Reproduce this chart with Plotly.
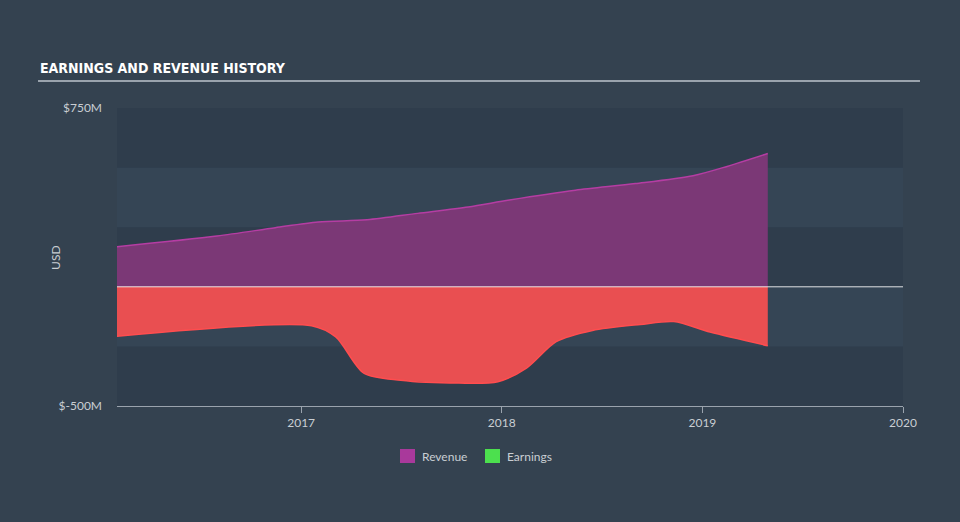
import plotly.graph_objects as go

rev_dates = ["2016-02-01", "2016-08-01", "2016-11-15", "2017-02-01", "2017-05-01", "2017-08-01",
             "2017-11-01", "2018-01-15", "2018-05-15", "2018-09-01", "2018-12-15", "2019-02-15",
             "2019-04-30"]
rev_vals = [168, 213, 248, 272, 281, 308, 335, 364, 405, 433, 466, 505, 559]

earn_dates = ["2016-02-01", "2017-01-20", "2017-03-05", "2017-04-25", "2017-07-01", "2017-10-15",
              "2017-12-25", "2018-02-15", "2018-04-10", "2018-06-15", "2018-09-10", "2018-11-10",
              "2019-01-15", "2019-04-30"]
earn_vals = [-207, -163, -210, -362, -392, -404, -398, -341, -230, -183, -158, -146, -190, -247]

y_ticks = [750, -500]
y_tick_text = ["$750M", "$-500M"]
x_ticks = ["2017-01-01", "2018-01-01", "2019-01-01", "2020-01-01"]
x_tick_text = ["2017", "2018", "2019", "2020"]
band_edges = [-500, -250, 0, 250, 500, 750]
legend_names = ["Revenue", "Earnings"]
legend_colors = ["#a9399b", "#4ce04e"]

BG = "#344250"
DARK = "#2f3d4c"
LIGHT = "#354555"
TXT = "#c9ced3"

fig = go.Figure()

fig.add_trace(go.Scatter(x=rev_dates, y=rev_vals, mode="lines", fill="tozeroy", name="Revenue",
                         line=dict(color="#b53da3", width=1.5, shape="spline", smoothing=0.8),
                         fillcolor="#7b3876", showlegend=False, hoverinfo="skip"))
fig.add_trace(go.Scatter(x=earn_dates, y=earn_vals, mode="lines", fill="tozeroy", name="Earnings",
                         line=dict(color="#ff4d4f", width=1.5, shape="spline", smoothing=0.8),
                         fillcolor="#e94f51", showlegend=False, hoverinfo="skip"))

shapes = []
for i in range(len(band_edges) - 1):
    shapes.append(dict(type="rect", xref="paper", yref="y", x0=0, x1=1,
                       y0=band_edges[i], y1=band_edges[i + 1],
                       fillcolor=DARK if i % 2 == 0 else LIGHT, line=dict(width=0), layer="below"))
shapes.append(dict(type="line", xref="paper", yref="y", x0=0, x1=1, y0=0, y1=0,
                   line=dict(color="rgba(255,255,255,0.85)", width=1), layer="above"))
shapes.append(dict(type="line", xref="paper", yref="paper", x0=-0.1005, x1=1.0216,
                   y0=1.0906, y1=1.0906, line=dict(color="#9aa3ad", width=2)))

annotations = [
    dict(text="<b>EARNINGS AND REVENUE HISTORY</b>", xref="paper", yref="paper",
         x=-0.1005, y=1.134, xanchor="left", yanchor="middle", showarrow=False,
         font=dict(family="DejaVu Sans Condensed, sans-serif", size=14, color="#ffffff")),
    dict(text="USD", xref="paper", yref="paper", x=-0.0776, y=0.497, textangle=-90,
         xanchor="center", yanchor="middle", showarrow=False,
         font=dict(family="Lato, Open Sans, sans-serif", size=12, color=TXT)),
]

# manual legend (squares + labels)
leg_x = [(400 - 117) / 786, (485 - 117) / 786]
leg_y0 = (406 - 463) / 298
leg_y1 = (406 - 449) / 298
for name, col, lx in zip(legend_names, legend_colors, leg_x):
    shapes.append(dict(type="rect", xref="paper", yref="paper", x0=lx, x1=lx + 15 / 786,
                       y0=leg_y0, y1=leg_y1, fillcolor=col, line=dict(width=0)))
    annotations.append(dict(text=name, xref="paper", yref="paper", x=lx + 20 / 786,
                            y=(leg_y0 + leg_y1) / 2, xanchor="left", yanchor="middle",
                            showarrow=False,
                            font=dict(family="Lato, Open Sans, sans-serif", size=12, color=TXT)))

fig.update_layout(
    width=960, height=522,
    margin=dict(l=117, r=57, t=108, b=116),
    paper_bgcolor=BG, plot_bgcolor=DARK,
    font=dict(family="Lato, Open Sans, sans-serif", color=TXT, size=12),
    shapes=shapes,
    annotations=annotations,
    showlegend=False,
)

fig.update_xaxes(type="date", range=["2016-02-01", "2020-01-01"], tickvals=x_ticks,
                 ticktext=x_tick_text, showgrid=False, zeroline=False,
                 showline=True, linecolor="#9aa3ad", linewidth=1,
                 ticks="outside", ticklen=6, tickcolor="#9aa3ad",
                 tickfont=dict(size=12, color=TXT))
fig.update_yaxes(range=[-500, 750], tickvals=y_ticks, ticktext=y_tick_text,
                 showgrid=False, zeroline=False, showline=False, ticks="",
                 ticklabelstandoff=14, tickfont=dict(size=12, color=TXT))

fig.write_html("out.html")
